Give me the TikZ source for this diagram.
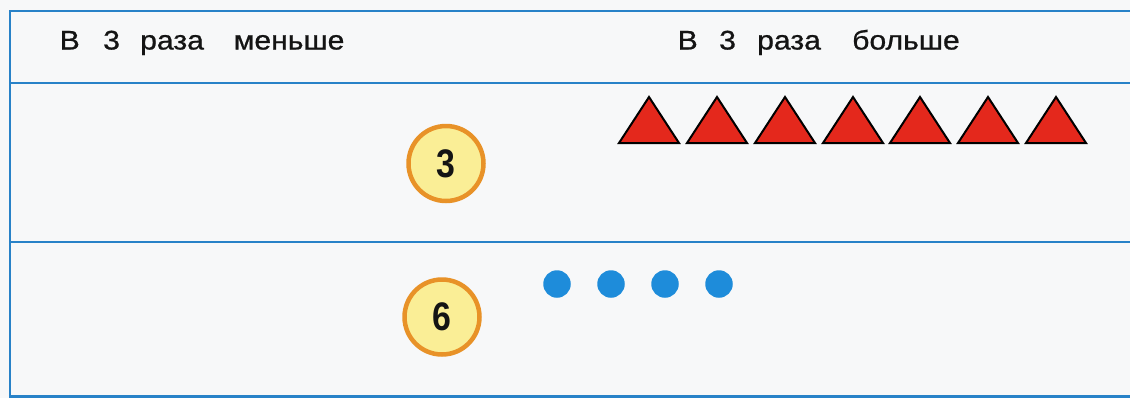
\documentclass[tikz,border=0pt]{standalone}
\usepackage{fontspec}
\setmainfont{Liberation Sans}
\newfontfamily\headfont[FakeStretch=1.12,FakeBold=0.8]{Liberation Sans}
\newfontfamily\numfont[FakeStretch=0.85]{Liberation Sans Bold}
\definecolor{linecol}{RGB}{40,130,200}
\definecolor{circfill}{RGB}{250,238,150}
\definecolor{circdraw}{RGB}{232,146,40}
\definecolor{trired}{RGB}{228,40,28}
\definecolor{dotblue}{RGB}{30,140,218}
\definecolor{paper}{RGB}{247,248,249}
\definecolor{inkcol}{RGB}{20,20,20}
\tikzset{
  rule/.style={draw=linecol, line width=2.6bp},
  headtext/.style={anchor=base west, inner sep=0pt, text=inkcol, font=\headfont\fontsize{27}{27}\selectfont},
  numcirc/.style={circle, fill=circfill, draw=circdraw, line width=4.5bp, minimum size=75bp, inner sep=0pt, text=inkcol, font=\numfont\fontsize{40}{40}\selectfont},
  tri/.style={fill=trired, draw=black, line width=2bp, line join=miter},
  bluedot/.style={circle, fill=dotblue, minimum size=27.5bp, inner sep=0pt}
}
\begin{document}
\begin{tikzpicture}[x=1bp,y=-1bp]
\useasboundingbox (0,0) rectangle (1130,398);
\fill[paper] (0,0) rectangle (1130,398);
% table frame
\coordinate (tl) at (10,11);
\coordinate (tr) at (1132,11);
\coordinate (s1l) at (10,83);
\coordinate (s1r) at (1132,83);
\coordinate (s2l) at (10,242);
\coordinate (s2r) at (1132,242);
\coordinate (bl) at (10,396.5);
\coordinate (br) at (1132,396.5);
\draw[rule] (tr) -- (tl) -- (bl) -- (br);
\draw[rule] (s1l) -- (s1r);
\draw[rule] (s2l) -- (s2r);
% headers
\node[headtext] (l1) at (59.5,49.5) {В};
\node[headtext] (l2) at (103,49.5) {3};
\node[headtext] (l3) at (140,49.5) {раза};
\node[headtext] (l4) at (233.5,49.5) {меньше};
\node[headtext] (r1) at (677.5,49.5) {В};
\node[headtext] (r2) at (719,49.5) {3};
\node[headtext] (r3) at (757,49.5) {раза};
\node[headtext] (r4) at (852,49.5) {больше};
% numbers
\node[numcirc] (n3) at (446,163.5) {3};
\node[numcirc] (n6) at (442,317) {6};
% triangles
\foreach \cx in {649,717,785,853,920,988,1056}{
  \filldraw[tri] (\cx-30,143) -- (\cx,97) -- (\cx+30,143) -- cycle;
}
% dots
\node[bluedot] (d1) at (557,284) {};
\node[bluedot] (d2) at (611,284) {};
\node[bluedot] (d3) at (665,284) {};
\node[bluedot] (d4) at (719,284) {};
\end{tikzpicture}
\end{document}
